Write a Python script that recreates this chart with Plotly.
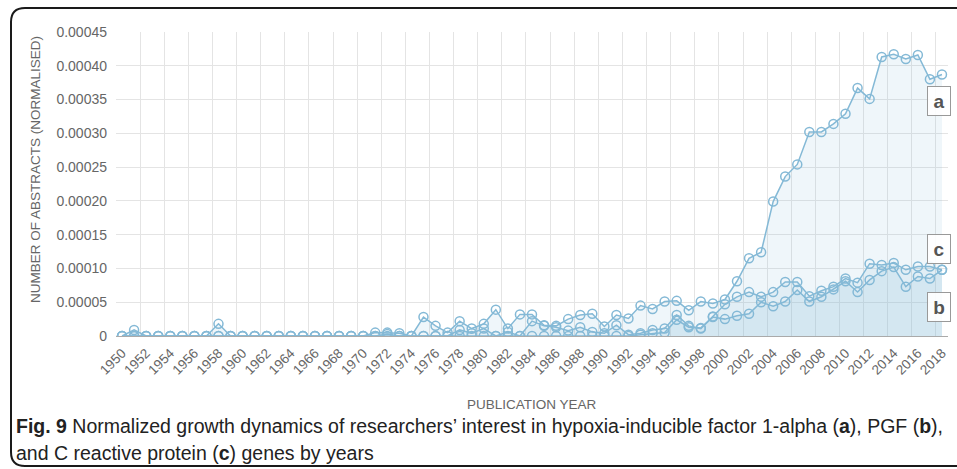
import plotly.graph_objects as go

# Publication years
years = list(range(1950, 2019))

# Normalised number of abstracts per year
hif1a = [
    0, 9e-6, 0, 0, 0, 0, 0, 0, 1.8e-5, 0,            # 1950-1959
    0, 0, 0, 0, 0, 0, 0, 0, 0, 0,                     # 1960-1969
    0, 5e-6, 5e-6, 4e-6, 0, 2.8e-5, 1.5e-5, 5e-6, 2.2e-5, 1.1e-5,   # 1970-1979
    1.8e-5, 3.9e-5, 1.1e-5, 3.2e-5, 3.2e-5, 1.6e-5, 1.5e-5, 2.5e-5, 3.1e-5, 3.3e-5,  # 1980-1989
    1.4e-5, 3.1e-5, 2.6e-5, 4.5e-5, 4.0e-5, 5.1e-5, 5.2e-5, 3.8e-5, 5.1e-5, 4.8e-5,  # 1990-1999
    5.4e-5, 8.1e-5, 1.15e-4, 1.24e-4, 1.99e-4, 2.36e-4, 2.54e-4, 3.02e-4, 3.02e-4, 3.14e-4,  # 2000-2009
    3.29e-4, 3.67e-4, 3.51e-4, 4.13e-4, 4.17e-4, 4.10e-4, 4.16e-4, 3.80e-4, 3.87e-4,  # 2010-2018
]
pgf = [
    0, 0, 0, 0, 0, 0, 0, 0, 0, 0,
    0, 0, 0, 0, 0, 0, 0, 0, 0, 0,
    0, 0, 0, 0, 0, 0, 0, 0, 0, 0,
    0, 0, 0, 0, 0, 0, 0, 0, 0, 0,
    0, 0, 0, 2e-6, 4e-6, 5e-6, 2.4e-5, 1.3e-5, 1.2e-5, 2.8e-5,
    2.5e-5, 3.0e-5, 3.3e-5, 5.0e-5, 4.4e-5, 5.1e-5, 6.8e-5, 5.1e-5, 5.8e-5, 6.9e-5,
    8.1e-5, 6.5e-5, 8.3e-5, 9.6e-5, 1.02e-4, 7.3e-5, 8.8e-5, 8.5e-5, 9.8e-5,
]
crp = [
    0, 0, 0, 0, 0, 0, 0, 0, 0, 0,
    0, 0, 0, 0, 0, 0, 0, 0, 0, 0,
    0, 0, 3e-6, 0, 0, 0, 0, 0, 9e-6, 4e-6,
    1.1e-5, 0, 6e-6, 0, 2.2e-5, 1.5e-5, 1.3e-5, 8e-6, 1.3e-5, 6e-6,
    4e-6, 1.6e-5, 2e-6, 4e-6, 9e-6, 1.1e-5, 3.1e-5, 1.5e-5, 1.1e-5, 2.9e-5,
    4.7e-5, 5.8e-5, 6.5e-5, 5.8e-5, 6.5e-5, 8.0e-5, 8.0e-5, 5.9e-5, 6.7e-5, 7.3e-5,
    8.5e-5, 7.9e-5, 1.07e-4, 1.05e-4, 1.08e-4, 9.8e-5, 1.03e-4, 1.03e-4, 9.8e-5,
]
series_labels = ["a", "b", "c"]

y_ticks = [0, 0.00005, 0.0001, 0.00015, 0.0002, 0.00025, 0.0003, 0.00035, 0.0004, 0.00045]
y_tick_text = ["0"] + ["%.5f" % v for v in y_ticks[1:]]
x_ticks = list(range(1950, 2019, 2))
x_tick_text = [str(y) for y in x_ticks]

W, H = 957, 469
ML, MR, MT, MB = 116, 9, 32, 133
PW, PH = W - ML - MR, H - MT - MB

def px(xp):
    return (xp - ML) / PW

def py(yp):
    return (H - MB - yp) / PH

LINE = "#84b9d6"
FILL = "rgba(132,185,214,0.13)"
GRID = "#e4e4e4"
TXT = "#666666"
SANS = "Liberation Sans, Arial, sans-serif"

fig = go.Figure()
for vals in (hif1a, pgf, crp):
    fig.add_trace(go.Scatter(
        x=years, y=vals, mode="lines+markers",
        line=dict(color=LINE, width=1.5),
        marker=dict(symbol="circle-open", size=9, color=LINE, line=dict(width=1.5, color=LINE)),
        fill="tozeroy", fillcolor=FILL, showlegend=False,
    ))

# Series tags on the right edge
tag_y = {"a": 101.5, "c": 248.5, "b": 307.0}
annotations = []
for lab in series_labels:
    annotations.append(dict(
        x=px(938.5), y=py(tag_y[lab]), xref="paper", yref="paper",
        text="<b>%s</b>" % lab, showarrow=False,
        font=dict(family=SANS, size=19, color="#555555"),
        bgcolor="rgba(255,255,255,0.9)", bordercolor="#999999", borderwidth=1,
        width=20, height=26, borderpad=1, xanchor="center", yanchor="middle",
    ))

cap_font = dict(family=SANS, size=19.5, color="#222222")
annotations.append(dict(
    x=px(14), y=py(426), xref="paper", yref="paper", xanchor="left", yanchor="middle",
    showarrow=False, font=cap_font,
    text="<b>Fig. 9</b> Normalized growth dynamics of researchers\u2019 interest in "
         "hypoxia-inducible factor 1-alpha (<b>a</b>), PGF (<b>b</b>),",
))
annotations.append(dict(
    x=px(14), y=py(453), xref="paper", yref="paper", xanchor="left", yanchor="middle",
    showarrow=False, font=cap_font,
    text="and C reactive protein (<b>c</b>) genes by years",
))
annotations.append(dict(
    x=px(532), y=py(404), xref="paper", yref="paper", xanchor="center", yanchor="middle",
    showarrow=False, font=dict(family=SANS, size=13.5, color=TXT),
    text="PUBLICATION YEAR",
))
annotations.append(dict(
    x=px(35), y=py(170), xref="paper", yref="paper", xanchor="center", yanchor="middle",
    showarrow=False, textangle=-90, font=dict(family=SANS, size=13.5, color=TXT),
    text="NUMBER OF ABSTRACTS (NORMALISED)",
))

# Rounded frame around the figure
r = 14
L, T, B, R = 11, 8, 466, 970
frame = (
    f"M {px(R)} {py(T)} L {px(L + r)} {py(T)} "
    f"Q {px(L)} {py(T)} {px(L)} {py(T + r)} "
    f"L {px(L)} {py(B - r)} "
    f"Q {px(L)} {py(B)} {px(L + r)} {py(B)} "
    f"L {px(R)} {py(B)}"
)

fig.update_layout(
    width=W, height=H,
    margin=dict(l=ML, r=MR, t=MT, b=MB),
    paper_bgcolor="white", plot_bgcolor="white",
    font=dict(family=SANS, color=TXT),
    annotations=annotations,
    shapes=[dict(type="path", path=frame, xref="paper", yref="paper",
                 line=dict(color="#1a1a1a", width=2))],
    xaxis=dict(
        range=[1949.5, 2018.5], tickmode="array", tickvals=x_ticks, ticktext=x_tick_text,
        tickangle=-45, tickfont=dict(size=13.5, color=TXT), showgrid=False, zeroline=False,
        showline=True, linecolor="#aaaaaa", linewidth=1, ticks="", ticklabelstandoff=3,
        minor=dict(tickmode="linear", tick0=1949.5, dtick=2, showgrid=True,
                   gridcolor=GRID, gridwidth=1, ticks=""),
    ),
    yaxis=dict(
        range=[0, 0.00045], tickmode="array", tickvals=y_ticks, ticktext=y_tick_text,
        tickfont=dict(size=14, color=TXT), showgrid=True, gridcolor=GRID, gridwidth=1,
        zeroline=False, ticks="", ticklen=0, ticklabelstandoff=8,
    ),
)

fig.write_html("out.html")
